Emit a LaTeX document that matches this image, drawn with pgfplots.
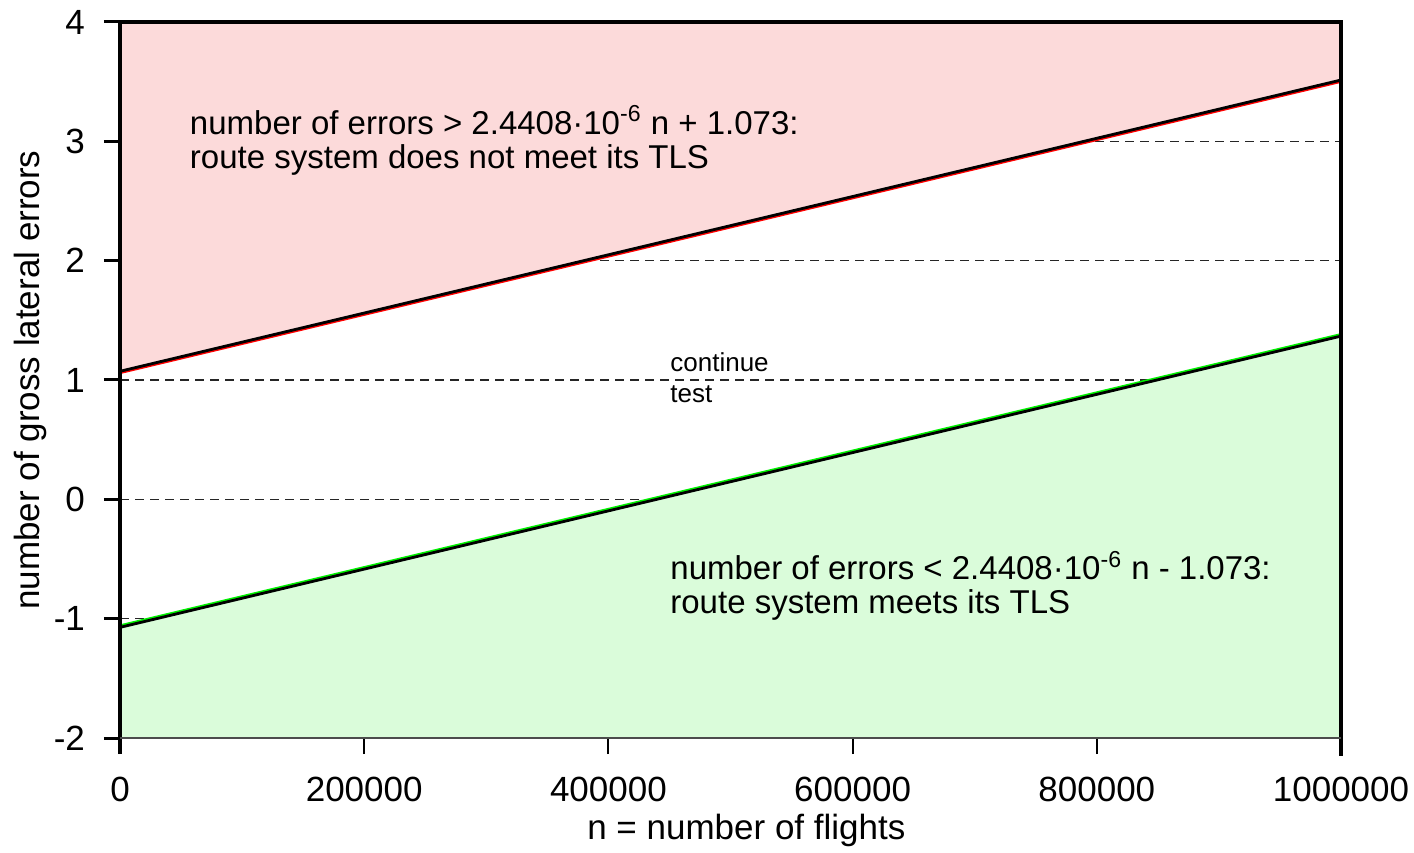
\documentclass[border=0pt]{standalone}
\usepackage{fontspec}
\setmainfont{Liberation Sans}
\usepackage{pgfplots}
\pgfplotsset{compat=1.18}
\definecolor{pinkfill}{RGB}{252,218,218}
\definecolor{greenfill}{RGB}{218,252,218}
\definecolor{linegreen}{RGB}{0,240,0}
\begin{document}
\begin{tikzpicture}
\path[use as bounding box] (0,0) rectangle (707pt,426pt);
\begin{axis}[
  at={(60pt,57pt)}, anchor=south west,
  scale only axis, width=610.5pt, height=358pt,
  xmin=0, xmax=1000000, ymin=-2, ymax=4,
  xtick={0,200000,400000,600000,800000,1000000},
  xticklabels={0,200000,400000,600000,800000,1000000},
  ytick={-2,-1,0,1,2,3,4},
  yticklabels={-2,-1,0,1,2,3,4},
  scaled x ticks=false,
  tick align=outside, xtick pos=bottom, ytick pos=left,
  major tick length=8pt,
  ytick style={line width=1.5pt, black},
  xtick style={line width=1pt, black},
  axis line style={draw=none},
  ymajorgrids, grid style={dash pattern=on 4.5pt off 3pt, line width=0.8pt, black!85},
  tick label style={font=\fontsize{17.5}{20}\selectfont},
  yticklabel style={xshift=-6pt},
  xticklabel style={yshift=-8pt},
  xlabel={n = number of flights}, ylabel={number of gross lateral errors},
  every axis x label/.style={at={(axis description cs:0.513,-0.1285)}, anchor=center, font=\fontsize{17.5}{20}\selectfont},
  every axis y label/.style={at={(axis description cs:-0.0737,0.5)}, anchor=center, rotate=90, font=\fontsize{17.5}{20}\selectfont},
  clip=false,
]
\addplot[draw=none, fill=pinkfill] coordinates {(0,1.073) (1000000,3.5138) (1000000,4) (0,4)} -- cycle;
\addplot[draw=none, fill=greenfill] coordinates {(0,-1.073) (1000000,1.3678) (1000000,-2) (0,-2)} -- cycle;
\addplot[red, line width=1.6pt, yshift=-0.6pt] coordinates {(0,1.073) (1000000,3.5138)};
\addplot[black, line width=1.4pt] coordinates {(0,1.073) (1000000,3.5138)};
\addplot[linegreen, line width=1.6pt, yshift=0.7pt] coordinates {(0,-1.073) (1000000,1.3678)};
\addplot[black, line width=1.4pt] coordinates {(0,-1.073) (1000000,1.3678)};
\draw[line width=2pt] ([yshift=-8pt]axis cs:0,-2) -- (axis cs:0,4);
\draw[line width=2pt, line cap=rect] (axis cs:0,4) -- (axis cs:1000000,4) -- ([yshift=-8pt]axis cs:1000000,-2);
\draw[line width=1pt, black!70] (axis cs:0,-2) -- (axis cs:1000000,-2);
\node[anchor=west, align=left, font=\fontsize{16.5}{17}\selectfont, inner sep=0pt] at (axis cs:57000,3.01) {number of errors > 2.4408·10\textsuperscript{-6} n + 1.073:\\route system does not meet its TLS};
\node[anchor=west, align=left, font=\fontsize{16.5}{17}\selectfont, inner sep=0pt] at (axis cs:450450,-0.726) {number of errors < 2.4408·10\textsuperscript{-6} n - 1.073:\\route system meets its TLS};
\node[anchor=west, align=left, font=\fontsize{13}{15.5}\selectfont, inner sep=0pt] at (axis cs:450450,1.021) {continue\\test};
\end{axis}
\end{tikzpicture}
\end{document}
